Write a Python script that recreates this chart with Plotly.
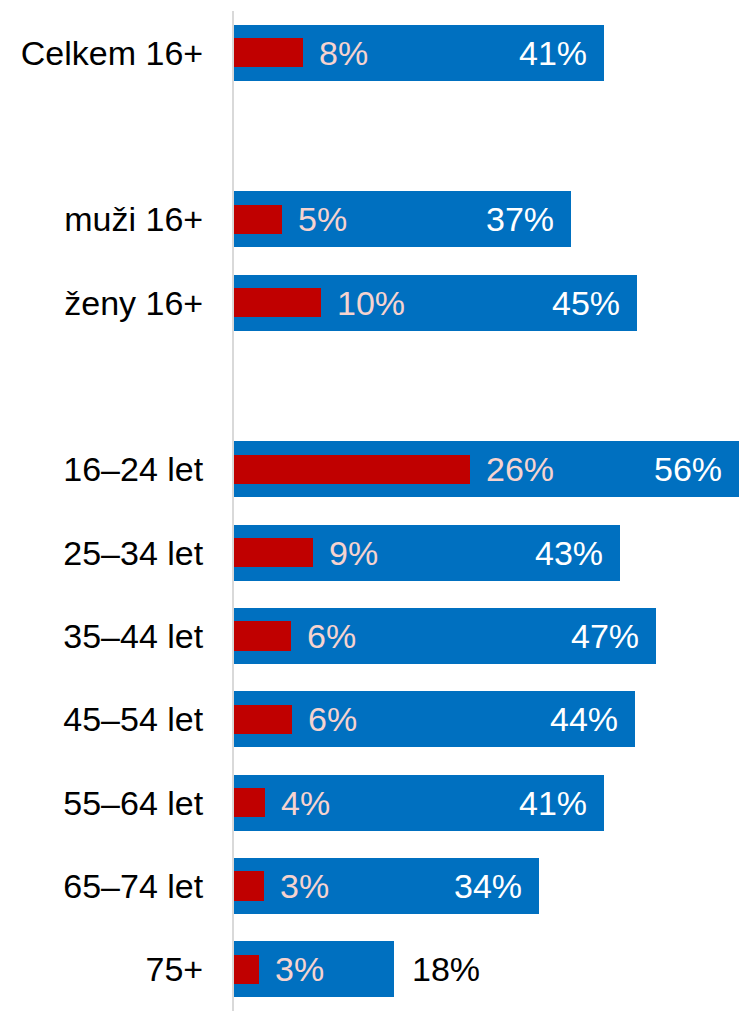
"""Horizontal overlay bars: share by group (blue) and the sub-share inside it (red)."""

import plotly.graph_objects as go

# Rows (blank strings are spacer rows between the groups)
CATEGORIES = ["Celkem 16+", " ", "muži 16+", "ženy 16+", "  ",
              "16–24 let", "25–34 let", "35–44 let", "45–54 let",
              "55–64 let", "65–74 let", "75+"]
BLUE_VALUES = [41.0, None, 37.3, 44.6, None,
               55.9, 42.7, 46.7, 44.4, 40.9, 33.7, 17.7]
RED_VALUES = [7.6, None, 5.3, 9.6, None,
              26.1, 8.7, 6.3, 6.4, 3.4, 3.3, 2.8]
BLUE_LABELS = ["41%", "", "37%", "45%", "",
               "56%", "43%", "47%", "44%", "41%", "34%", "18%"]
RED_LABELS = ["8%", "", "5%", "10%", "",
              "26%", "9%", "6%", "6%", "4%", "3%", "3%"]
BLUE_LABEL_OUTSIDE = ["75+"]

C_BLUE = "#0070C0"
C_RED = "#C00000"
C_RED_TEXT = "#F6D3CF"
C_AXIS = "#D9D9D9"
FONT = "Liberation Sans, Arial, sans-serif"
FS = 34

fig = go.Figure()
fig.add_trace(go.Bar(
    y=CATEGORIES, x=BLUE_VALUES, orientation="h",
    marker={"color": C_BLUE, "line": {"width": 0}},
    width=0.67, hoverinfo="skip",
))
fig.add_trace(go.Bar(
    y=CATEGORIES, x=RED_VALUES, orientation="h",
    marker={"color": C_RED, "line": {"width": 0}},
    width=0.35, hoverinfo="skip",
))

for cat, bv, rv, bl, rl in zip(CATEGORIES, BLUE_VALUES, RED_VALUES, BLUE_LABELS, RED_LABELS):
    if bv is None:
        continue
    fig.add_annotation(x=rv, y=cat, text=rl, showarrow=False,
                       xanchor="left", xshift=14,
                       font={"size": FS, "color": C_RED_TEXT, "family": FONT})
    if cat in BLUE_LABEL_OUTSIDE:
        fig.add_annotation(x=bv, y=cat, text=bl, showarrow=False,
                           xanchor="left", xshift=16,
                           font={"size": FS, "color": "#000000", "family": FONT})
    else:
        fig.add_annotation(x=bv, y=cat, text=bl, showarrow=False,
                           xanchor="right", xshift=-15,
                           font={"size": FS, "color": "#FFFFFF", "family": FONT})

fig.update_xaxes(range=[0, 56], visible=False, fixedrange=True)
fig.update_yaxes(
    autorange="reversed",
    showline=True, linecolor=C_AXIS, linewidth=2,
    showgrid=False, zeroline=False, ticks="",
    ticklabelstandoff=22,
    tickfont={"size": FS, "color": "#000000", "family": FONT},
)
fig.update_layout(
    width=740, height=1011,
    margin=dict(l=234, r=0, t=11, b=0),
    barmode="overlay",
    bargap=0,
    paper_bgcolor="#FFFFFF",
    plot_bgcolor="#FFFFFF",
    showlegend=False,
    font={"family": FONT, "color": "#000000", "size": FS},
)

# page body has a default margin; drop it so the figure sits at the window corner
fig.write_html("out.html", config={"displayModeBar": False},
               post_script="document.body.style.margin='0';")
